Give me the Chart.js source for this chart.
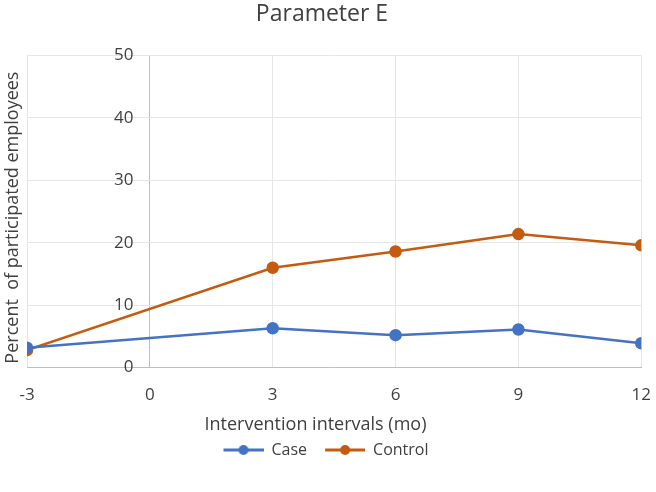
<!DOCTYPE html>
<html>
<head>
<meta charset="utf-8">
<script src="https://cdn.jsdelivr.net/npm/chart.js@4/dist/chart.umd.min.js"></script>
<style>
  html, body { margin: 0; padding: 0; background: #fff; }
  #wrap { width: 656px; height: 492px; }
</style>
</head>
<body>
<div id="wrap"><canvas id="chart"></canvas></div>
<script>
const months = [-3, 3, 6, 9, 12]
const caseValues = [3.2, 6.3, 5.2, 6.1, 3.9]
const controlValues = [2.8, 16.0, 18.6, 21.4, 19.6]
const xTicks = [-3, 0, 3, 6, 9, 12]
const yTicks = [0, 10, 20, 30, 40, 50]

const blue = '#4472C4'
const orange = '#C55A11'
const textColor = '#404040'
const gridColor = '#e6e6e6'
const axisColor = '#bfbfbf'
const font = '"Open Sans", "Liberation Sans", sans-serif'

// legend marker: short line with a dot, blank space on the left widens the gap between items
function legendMarker(color) {
  const c = document.createElement('canvas')
  c.width = 48
  c.height = 12
  const g = c.getContext('2d')
  g.strokeStyle = color
  g.lineWidth = 3
  g.beginPath()
  g.moveTo(8, 6)
  g.lineTo(48, 6)
  g.stroke()
  g.fillStyle = color
  g.beginPath()
  g.arc(28, 6, 5, 0, Math.PI * 2)
  g.fill()
  return c
}

// axis titles drawn by hand so they sit where the original puts them
const axisTitles = {
  id: 'axisTitles',
  afterDraw(chart) {
    const {ctx, chartArea} = chart
    ctx.save()
    ctx.fillStyle = textColor
    ctx.textAlign = 'center'
    ctx.textBaseline = 'middle'
    ctx.font = '18px ' + font
    ctx.fillText('Intervention intervals (mo)', chart.width / 2 - 12.5, chartArea.bottom + 57)
    ctx.translate(13, (chartArea.top + chartArea.bottom) / 2 + 6)
    ctx.rotate(-Math.PI / 2)
    ctx.fillText('Percent  of participated employees', 0, 0)
    ctx.restore()
  }
}

const series = [
  {label: 'Case', values: caseValues, color: blue},
  {label: 'Control', values: controlValues, color: orange}
]

new Chart(document.getElementById('chart'), {
  type: 'line',
  data: {
    datasets: series.map((s) => ({
      label: s.label,
      data: months.map((m, i) => ({x: m, y: s.values[i]})),
      borderColor: s.color,
      backgroundColor: s.color,
      borderWidth: 2.5,
      pointRadius: 5,
      pointHoverRadius: 5,
      tension: 0
    }))
  },
  options: {
    responsive: true,
    maintainAspectRatio: false,
    animation: false,
    layout: { padding: { left: 0, right: 12, top: 0, bottom: 24 } },
    plugins: {
      title: {
        display: true,
        text: 'Parameter E',
        color: textColor,
        font: { family: font, size: 23, weight: 'normal' },
        padding: { top: 1, bottom: 27 }
      },
      legend: {
        position: 'bottom',
        labels: {
          usePointStyle: true,
          pointStyleWidth: 48,
          color: textColor,
          font: { family: font, size: 16, lineHeight: 1 },
          padding: 10,
          generateLabels(chart) {
            return chart.data.datasets.map((ds, i) => ({
              text: ds.label,
              pointStyle: legendMarker(ds.borderColor),
              fillStyle: ds.borderColor,
              strokeStyle: ds.borderColor,
              lineWidth: 0,
              fontColor: textColor,
              datasetIndex: i
            }))
          }
        }
      },
      tooltip: { enabled: false }
    },
    scales: {
      x: {
        type: 'linear',
        min: -3,
        max: 12,
        afterBuildTicks(scale) { scale.ticks = xTicks.map((v) => ({value: v})) },
        grid: {
          color: (c) => (c.tick && c.tick.value === 0 ? axisColor : gridColor),
          drawTicks: true,
          tickLength: 12,
          tickColor: 'rgba(0,0,0,0)'
        },
        border: { color: axisColor },
        ticks: { color: textColor, font: { family: font, size: 17 }, padding: 5 },
        // keeps room for the hand drawn title below the ticks
        title: {
          display: true,
          text: 'Intervention intervals (mo)',
          color: 'rgba(0,0,0,0)',
          font: { family: font, size: 18, lineHeight: 1 },
          padding: { top: 4, bottom: 0 }
        }
      },
      y: {
        // labels sit just left of the x = 0 line
        position: { x: -0.4 },
        min: 0,
        max: 50,
        afterBuildTicks(scale) { scale.ticks = yTicks.map((v) => ({value: v})) },
        grid: { color: gridColor, drawTicks: false },
        border: { display: false },
        ticks: { color: textColor, font: { family: font, size: 17 } }
      },
      // empty axis that only keeps room for the rotated y title
      spacer: {
        type: 'linear',
        axis: 'y',
        position: 'left',
        display: true,
        grid: { display: false, drawTicks: false },
        border: { display: false },
        ticks: { display: false },
        afterFit(scale) { scale.width = 27 }
      }
    }
  },
  plugins: [axisTitles]
})
</script>
</body>
</html>
